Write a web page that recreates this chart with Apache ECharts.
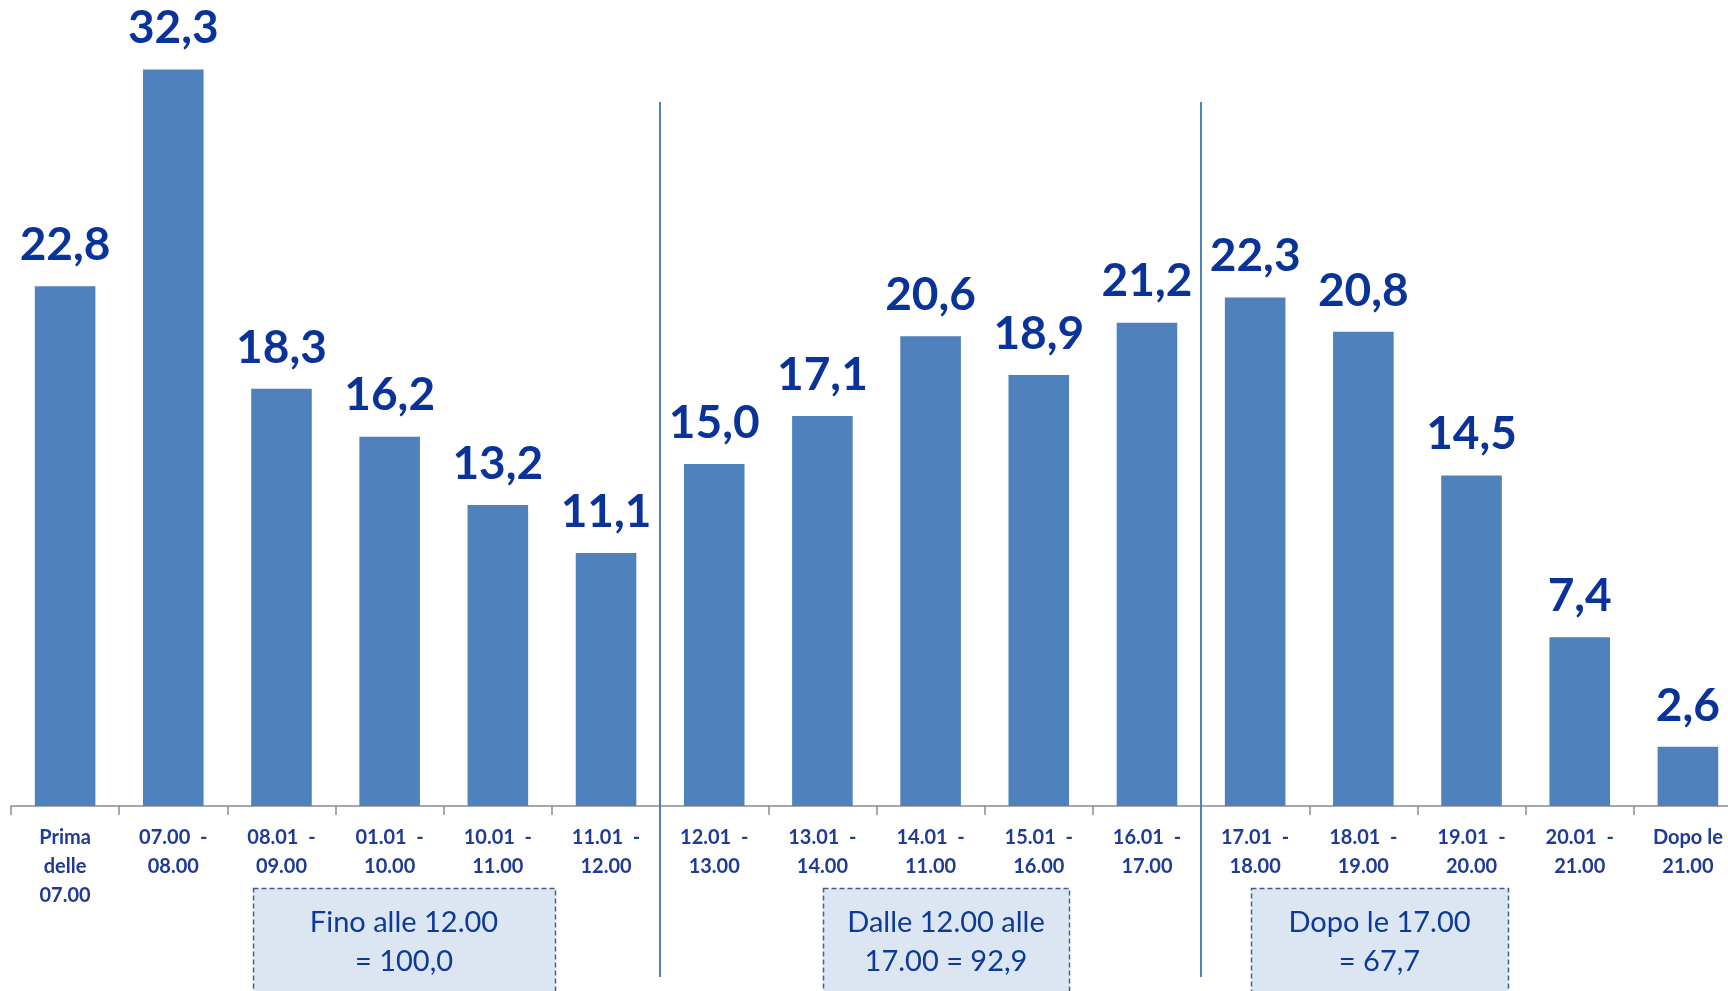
<!DOCTYPE html>
<html>
<head>
<meta charset="utf-8">
<script src="https://cdn.jsdelivr.net/npm/echarts@6/dist/echarts.min.js"></script>
<style>
  html, body { margin: 0; padding: 0; background: #ffffff; }
  #chart { width: 1728px; height: 991px; }
</style>
</head>
<body>
<div id="chart"></div>
<script>
// Fasce orarie (etichette dell'asse)
const categories = [
  'Prima\ndelle\n07.00', '07.00  -\n08.00', '08.01  -\n09.00', '01.01  -\n10.00',
  '10.01  -\n11.00', '11.01  -\n12.00', '12.01  -\n13.00', '13.01  -\n14.00',
  '14.01  -\n11.00', '15.01  -\n16.00', '16.01  -\n17.00', '17.01  -\n18.00',
  '18.01  -\n19.00', '19.01  -\n20.00', '20.01  -\n21.00', 'Dopo le\n21.00'
];

// Valori per fascia oraria
const values = [22.8, 32.3, 18.3, 16.2, 13.2, 11.1, 15.0, 17.1, 20.6, 18.9, 21.2, 22.3, 20.8, 14.5, 7.4, 2.6];

// Indici delle fasce dopo cui cade un separatore verticale
const separatorsAfter = [5, 10];

// Riquadri di sintesi per gruppo di fasce
const summaryLines = [
  ['Fino alle 12.00', '= 100,0'],
  ['Dalle 12.00 alle', '17.00 = 92,9'],
  ['Dopo le 17.00', '= 67,7']
];

const fmt = v => v.toFixed(1).replace('.', ',');

const chart = echarts.init(document.getElementById('chart'), null, { renderer: 'canvas' });

const option = {
  backgroundColor: '#ffffff',
  animation: false,
  grid: {
    left: 11, top: 8, width: 1731, height: 798,
    containLabel: false,
    outerBoundsMode: 'none'
  },
  xAxis: {
    type: 'category',
    data: categories,
    axisLine: { show: true, lineStyle: { color: '#8c8c8c', width: 1.5 } },
    axisTick: { show: true, alignWithLabel: false, length: 9, lineStyle: { color: '#8c8c8c', width: 1.5 } },
    axisLabel: {
      interval: 0,
      margin: 17,
      color: '#1f3b95',
      fontFamily: 'Lato',
      fontWeight: 'bold',
      fontSize: 20,
      lineHeight: 29,
      align: 'center',
      hideOverlap: false
    }
  },
  yAxis: {
    type: 'value',
    min: 0,
    max: 35,
    show: false,
    splitLine: { show: false }
  },
  series: [{
    type: 'bar',
    data: values,
    barWidth: '56%',
    itemStyle: { color: '#4f81bd' },
    label: {
      show: true,
      position: 'top',
      distance: 18,
      formatter: p => fmt(p.value),
      color: '#0a3399',
      fontFamily: 'Lato',
      fontWeight: 'bold',
      fontSize: 46,
      lineHeight: 46
    }
  }]
};

chart.setOption(option);

// Separatori verticali tra i gruppi di fasce, posti sul confine tra due categorie
function boundaryX(i) {
  const a = chart.convertToPixel({ xAxisIndex: 0 }, categories[i]);
  const b = chart.convertToPixel({ xAxisIndex: 0 }, categories[i + 1]);
  return (a + b) / 2;
}

const graphics = [];
separatorsAfter.forEach(i => {
  const x = Math.round(boundaryX(i));
  graphics.push({
    type: 'line',
    shape: { x1: x, y1: 102, x2: x, y2: 977 },
    style: { stroke: '#4f81bd', lineWidth: 2 },
    z: 10
  });
});

// Riquadri tratteggiati con i totali
const boxes = [
  { x: 253, w: 302 },
  { x: 823, w: 246 },
  { x: 1251, w: 257 }
];
boxes.forEach((b, k) => {
  graphics.push({
    type: 'rect',
    shape: { x: b.x + 0.5, y: 888.5, width: b.w, height: 140 },
    style: { fill: '#dce6f2', stroke: '#3f5f8a', lineWidth: 1.5, lineDash: [5, 3] },
    z: 10
  });
  summaryLines[k].forEach((t, j) => {
    graphics.push({
      type: 'text',
      x: b.x + b.w / 2,
      y: 923 + j * 39,
      style: {
        text: t,
        fill: '#0d3a96',
        font: '29px Lato',
        textAlign: 'center',
        textVerticalAlign: 'middle'
      },
      z: 11
    });
  });
});

chart.setOption({ graphic: graphics });
</script>
</body>
</html>
